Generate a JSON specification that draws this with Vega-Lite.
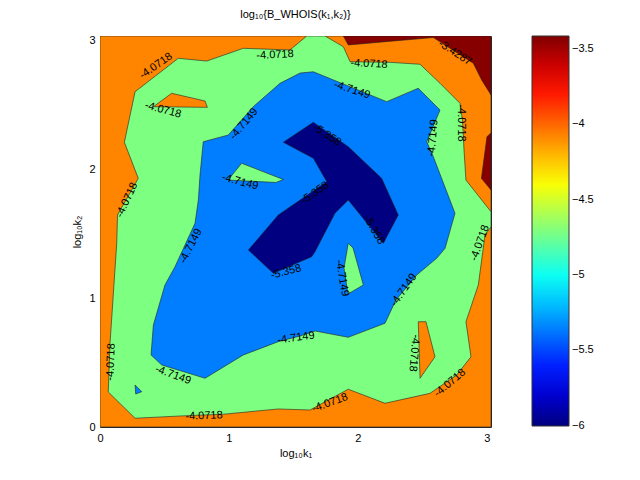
{
  "$schema": "https://vega.github.io/schema/vega-lite/v6.json",
  "width": 391,
  "height": 391,
  "autosize": {"type": "none"},
  "padding": {"left": 100, "top": 36, "right": 149, "bottom": 53},
  "config": {
    "font": "Liberation Sans, DejaVu Sans, sans-serif",
    "view": {"stroke": "#262626", "strokeWidth": 1}
  },
  "title": {"text": "log₁₀{B_WHOIS(k₁,k₂)}", "fontSize": 11, "fontWeight": "normal", "color": "#000", "offset": 14},
  "datasets": {
    "poly": [
      {"p": "bg", "s": 0, "z": -4.0718, "i": 0, "x": 0, "y": 0},
      {"p": "bg", "s": 0, "z": -4.0718, "i": 1, "x": 3.0334, "y": 0},
      {"p": "bg", "s": 0, "z": -4.0718, "i": 2, "x": 3.0334, "y": 3.0334},
      {"p": "bg", "s": 0, "z": -4.0718, "i": 3, "x": 0, "y": 3.0334},

      {"p": "g", "s": 1, "z": -4.7149, "i": 0, "x": 0.064, "y": 0.272},
      {"p": "g", "s": 1, "z": -4.7149, "i": 1, "x": 0.078, "y": 0.652},
      {"p": "g", "s": 1, "z": -4.7149, "i": 2, "x": 0.130, "y": 1.428},
      {"p": "g", "s": 1, "z": -4.7149, "i": 3, "x": 0.136, "y": 1.645},
      {"p": "g", "s": 1, "z": -4.7149, "i": 4, "x": 0.297, "y": 1.929},
      {"p": "g", "s": 1, "z": -4.7149, "i": 5, "x": 0.189, "y": 2.209},
      {"p": "g", "s": 1, "z": -4.7149, "i": 6, "x": 0.272, "y": 2.601},
      {"p": "g", "s": 1, "z": -4.7149, "i": 7, "x": 0.607, "y": 2.860},
      {"p": "g", "s": 1, "z": -4.7149, "i": 8, "x": 0.828, "y": 2.839},
      {"p": "g", "s": 1, "z": -4.7149, "i": 9, "x": 1.112, "y": 2.938},
      {"p": "g", "s": 1, "z": -4.7149, "i": 10, "x": 1.474, "y": 2.925},
      {"p": "g", "s": 1, "z": -4.7149, "i": 11, "x": 1.604, "y": 3.0334},
      {"p": "g", "s": 1, "z": -4.7149, "i": 12, "x": 1.746, "y": 3.0334},
      {"p": "g", "s": 1, "z": -4.7149, "i": 13, "x": 1.888, "y": 2.950},
      {"p": "g", "s": 1, "z": -4.7149, "i": 14, "x": 1.940, "y": 2.834},
      {"p": "g", "s": 1, "z": -4.7149, "i": 15, "x": 2.250, "y": 2.829},
      {"p": "g", "s": 1, "z": -4.7149, "i": 16, "x": 2.483, "y": 2.814},
      {"p": "g", "s": 1, "z": -4.7149, "i": 17, "x": 2.638, "y": 2.666},
      {"p": "g", "s": 1, "z": -4.7149, "i": 18, "x": 2.793, "y": 2.511},
      {"p": "g", "s": 1, "z": -4.7149, "i": 19, "x": 2.812, "y": 2.382},
      {"p": "g", "s": 1, "z": -4.7149, "i": 20, "x": 2.824, "y": 2.149},
      {"p": "g", "s": 1, "z": -4.7149, "i": 21, "x": 2.839, "y": 1.916},
      {"p": "g", "s": 1, "z": -4.7149, "i": 22, "x": 3.0334, "y": 1.670},
      {"p": "g", "s": 1, "z": -4.7149, "i": 23, "x": 3.0334, "y": 1.552},
      {"p": "g", "s": 1, "z": -4.7149, "i": 24, "x": 2.987, "y": 1.490},
      {"p": "g", "s": 1, "z": -4.7149, "i": 25, "x": 2.935, "y": 1.102},
      {"p": "g", "s": 1, "z": -4.7149, "i": 26, "x": 2.839, "y": 0.817},
      {"p": "g", "s": 1, "z": -4.7149, "i": 27, "x": 2.878, "y": 0.545},
      {"p": "g", "s": 1, "z": -4.7149, "i": 28, "x": 2.767, "y": 0.403},
      {"p": "g", "s": 1, "z": -4.7149, "i": 29, "x": 2.560, "y": 0.261},
      {"p": "g", "s": 1, "z": -4.7149, "i": 30, "x": 2.211, "y": 0.184},
      {"p": "g", "s": 1, "z": -4.7149, "i": 31, "x": 1.926, "y": 0.293},
      {"p": "g", "s": 1, "z": -4.7149, "i": 32, "x": 1.629, "y": 0.132},
      {"p": "g", "s": 1, "z": -4.7149, "i": 33, "x": 1.383, "y": 0.140},
      {"p": "g", "s": 1, "z": -4.7149, "i": 34, "x": 0.957, "y": 0.099},
      {"p": "g", "s": 1, "z": -4.7149, "i": 35, "x": 0.673, "y": 0.088},
      {"p": "g", "s": 1, "z": -4.7149, "i": 36, "x": 0.272, "y": 0.068},

      {"p": "b", "s": 2, "z": -5.358, "i": 0, "x": 0.801, "y": 2.213},
      {"p": "b", "s": 2, "z": -5.358, "i": 1, "x": 0.995, "y": 2.265},
      {"p": "b", "s": 2, "z": -5.358, "i": 2, "x": 1.189, "y": 2.485},
      {"p": "b", "s": 2, "z": -5.358, "i": 3, "x": 1.396, "y": 2.666},
      {"p": "b", "s": 2, "z": -5.358, "i": 4, "x": 1.552, "y": 2.746},
      {"p": "b", "s": 2, "z": -5.358, "i": 5, "x": 1.655, "y": 2.756},
      {"p": "b", "s": 2, "z": -5.358, "i": 6, "x": 2.224, "y": 2.524},
      {"p": "b", "s": 2, "z": -5.358, "i": 7, "x": 2.469, "y": 2.628},
      {"p": "b", "s": 2, "z": -5.358, "i": 8, "x": 2.638, "y": 2.459},
      {"p": "b", "s": 2, "z": -5.358, "i": 9, "x": 2.535, "y": 2.213},
      {"p": "b", "s": 2, "z": -5.358, "i": 10, "x": 2.586, "y": 2.097},
      {"p": "b", "s": 2, "z": -5.358, "i": 11, "x": 2.754, "y": 1.658},
      {"p": "b", "s": 2, "z": -5.358, "i": 12, "x": 2.677, "y": 1.386},
      {"p": "b", "s": 2, "z": -5.358, "i": 13, "x": 2.612, "y": 1.309},
      {"p": "b", "s": 2, "z": -5.358, "i": 14, "x": 2.457, "y": 1.179},
      {"p": "b", "s": 2, "z": -5.358, "i": 15, "x": 2.296, "y": 0.985},
      {"p": "b", "s": 2, "z": -5.358, "i": 16, "x": 2.211, "y": 0.805},
      {"p": "b", "s": 2, "z": -5.358, "i": 17, "x": 1.926, "y": 0.696},
      {"p": "b", "s": 2, "z": -5.358, "i": 18, "x": 1.668, "y": 0.745},
      {"p": "b", "s": 2, "z": -5.358, "i": 19, "x": 1.552, "y": 0.706},
      {"p": "b", "s": 2, "z": -5.358, "i": 20, "x": 1.383, "y": 0.662},
      {"p": "b", "s": 2, "z": -5.358, "i": 21, "x": 1.112, "y": 0.559},
      {"p": "b", "s": 2, "z": -5.358, "i": 22, "x": 0.815, "y": 0.378},
      {"p": "b", "s": 2, "z": -5.358, "i": 23, "x": 0.479, "y": 0.481},
      {"p": "b", "s": 2, "z": -5.358, "i": 24, "x": 0.396, "y": 0.559},
      {"p": "b", "s": 2, "z": -5.358, "i": 25, "x": 0.414, "y": 0.791},
      {"p": "b", "s": 2, "z": -5.358, "i": 26, "x": 0.504, "y": 1.102},
      {"p": "b", "s": 2, "z": -5.358, "i": 27, "x": 0.582, "y": 1.244},
      {"p": "b", "s": 2, "z": -5.358, "i": 28, "x": 0.737, "y": 1.580},
      {"p": "b", "s": 2, "z": -5.358, "i": 29, "x": 0.763, "y": 1.761},
      {"p": "b", "s": 2, "z": -5.358, "i": 30, "x": 0.776, "y": 1.955},

      {"p": "n", "s": 3, "z": -6.0, "i": 0, "x": 1.422, "y": 2.209},
      {"p": "n", "s": 3, "z": -6.0, "i": 1, "x": 1.655, "y": 2.364},
      {"p": "n", "s": 3, "z": -6.0, "i": 2, "x": 1.926, "y": 2.175},
      {"p": "n", "s": 3, "z": -6.0, "i": 3, "x": 2.185, "y": 1.929},
      {"p": "n", "s": 3, "z": -6.0, "i": 4, "x": 2.314, "y": 1.645},
      {"p": "n", "s": 3, "z": -6.0, "i": 5, "x": 2.198, "y": 1.425},
      {"p": "n", "s": 3, "z": -6.0, "i": 6, "x": 1.926, "y": 1.761},
      {"p": "n", "s": 3, "z": -6.0, "i": 7, "x": 1.823, "y": 1.658},
      {"p": "n", "s": 3, "z": -6.0, "i": 8, "x": 1.668, "y": 1.360},
      {"p": "n", "s": 3, "z": -6.0, "i": 9, "x": 1.642, "y": 1.321},
      {"p": "n", "s": 3, "z": -6.0, "i": 10, "x": 1.345, "y": 1.192},
      {"p": "n", "s": 3, "z": -6.0, "i": 11, "x": 1.151, "y": 1.373},
      {"p": "n", "s": 3, "z": -6.0, "i": 12, "x": 1.383, "y": 1.645},
      {"p": "n", "s": 3, "z": -6.0, "i": 13, "x": 1.759, "y": 1.903},
      {"p": "n", "s": 3, "z": -6.0, "i": 14, "x": 1.655, "y": 2.085},

      {"p": "o1", "s": 4, "z": -4.0718, "i": 0, "x": 0.556, "y": 2.589},
      {"p": "o1", "s": 4, "z": -4.0718, "i": 1, "x": 0.815, "y": 2.529},
      {"p": "o1", "s": 4, "z": -4.0718, "i": 2, "x": 0.833, "y": 2.480},
      {"p": "o1", "s": 4, "z": -4.0718, "i": 3, "x": 0.414, "y": 2.485},
      {"p": "o2", "s": 4, "z": -4.0718, "i": 0, "x": 2.469, "y": 0.817},
      {"p": "o2", "s": 4, "z": -4.0718, "i": 1, "x": 2.529, "y": 0.817},
      {"p": "o2", "s": 4, "z": -4.0718, "i": 2, "x": 2.599, "y": 0.545},
      {"p": "o2", "s": 4, "z": -4.0718, "i": 3, "x": 2.483, "y": 0.378},
      {"p": "gA", "s": 4, "z": -4.7149, "i": 0, "x": 1.099, "y": 2.046},
      {"p": "gA", "s": 4, "z": -4.7149, "i": 1, "x": 1.422, "y": 1.920},
      {"p": "gA", "s": 4, "z": -4.7149, "i": 2, "x": 1.365, "y": 1.897},
      {"p": "gA", "s": 4, "z": -4.7149, "i": 3, "x": 0.993, "y": 1.916},
      {"p": "gB", "s": 4, "z": -4.7149, "i": 0, "x": 1.926, "y": 1.425},
      {"p": "gB", "s": 4, "z": -4.7149, "i": 1, "x": 1.963, "y": 1.389},
      {"p": "gB", "s": 4, "z": -4.7149, "i": 2, "x": 2.043, "y": 1.102},
      {"p": "gB", "s": 4, "z": -4.7149, "i": 3, "x": 1.924, "y": 1.032},
      {"p": "gB", "s": 4, "z": -4.7149, "i": 4, "x": 1.893, "y": 1.234},
      {"p": "bt", "s": 4, "z": -5.358, "i": 0, "x": 0.272, "y": 0.326},
      {"p": "bt", "s": 4, "z": -5.358, "i": 1, "x": 0.324, "y": 0.274},
      {"p": "bt", "s": 4, "z": -5.358, "i": 2, "x": 0.277, "y": 0.256},
      {"p": "r1", "s": 4, "z": -3.4287, "i": 0, "x": 1.888, "y": 3.0334},
      {"p": "r1", "s": 4, "z": -3.4287, "i": 1, "x": 1.926, "y": 2.964},
      {"p": "r1", "s": 4, "z": -3.4287, "i": 2, "x": 2.586, "y": 3.022},
      {"p": "r1", "s": 4, "z": -3.4287, "i": 3, "x": 2.896, "y": 2.822},
      {"p": "r1", "s": 4, "z": -3.4287, "i": 4, "x": 2.961, "y": 2.692},
      {"p": "r1", "s": 4, "z": -3.4287, "i": 5, "x": 3.0334, "y": 2.576},
      {"p": "r1", "s": 4, "z": -3.4287, "i": 6, "x": 3.0334, "y": 3.0334},
      {"p": "r2", "s": 4, "z": -3.4287, "i": 0, "x": 3.0334, "y": 2.281},
      {"p": "r2", "s": 4, "z": -3.4287, "i": 1, "x": 3.002, "y": 2.252},
      {"p": "r2", "s": 4, "z": -3.4287, "i": 2, "x": 2.959, "y": 1.929},
      {"p": "r2", "s": 4, "z": -3.4287, "i": 3, "x": 3.0334, "y": 1.839}
    ],
    "labels": [
      {"t": "-4.0718", "x": 2.087, "y": 2.816, "a": 3},
      {"t": "-4.0718", "x": 1.358, "y": 2.886, "a": -3},
      {"t": "-4.0718", "x": 0.434, "y": 2.801, "a": -35},
      {"t": "-4.0718", "x": 0.489, "y": 2.459, "a": 15},
      {"t": "-4.7149", "x": 1.117, "y": 2.351, "a": -50},
      {"t": "-4.7149", "x": 1.086, "y": 1.901, "a": 15},
      {"t": "-4.0718", "x": 0.210, "y": 1.761, "a": -65},
      {"t": "-4.7149", "x": 1.955, "y": 2.614, "a": 18},
      {"t": "-3.4287", "x": 2.754, "y": 2.902, "a": 33},
      {"t": "-5.358", "x": 1.761, "y": 2.265, "a": 33},
      {"t": "-5.358", "x": 1.668, "y": 1.815, "a": -35},
      {"t": "-5.358", "x": 2.126, "y": 1.528, "a": 60},
      {"t": "-5.358", "x": 1.443, "y": 1.203, "a": -15},
      {"t": "-4.7149", "x": 1.877, "y": 1.156, "a": 80},
      {"t": "-4.7149", "x": 2.583, "y": 2.242, "a": -85},
      {"t": "-4.0718", "x": 2.801, "y": 2.358, "a": 90},
      {"t": "-4.0718", "x": 2.948, "y": 1.428, "a": -70},
      {"t": "-4.7149", "x": 2.358, "y": 1.063, "a": -55},
      {"t": "-4.0718", "x": 2.436, "y": 0.574, "a": 95},
      {"t": "-4.0718", "x": 2.715, "y": 0.341, "a": -40},
      {"t": "-4.0718", "x": 1.784, "y": 0.186, "a": -20},
      {"t": "-4.7149", "x": 1.521, "y": 0.691, "a": -8},
      {"t": "-4.7149", "x": 0.566, "y": 0.403, "a": 20},
      {"t": "-4.0718", "x": 0.807, "y": 0.085, "a": -2},
      {"t": "-4.0718", "x": 0.085, "y": 0.504, "a": -88},
      {"t": "-4.7149", "x": 0.706, "y": 1.404, "a": -63}
    ]
  },
  "encoding": {
    "x": {
      "field": "x", "type": "quantitative",
      "scale": {"domain": [0, 3.0334], "nice": false, "zero": false},
      "axis": {"title": "log₁₀k₁", "values": [0, 1, 2, 3], "format": "d", "ticks": false, "domain": false, "grid": false,
               "labelFlush": false, "labelFontSize": 11, "labelPadding": 5, "labelColor": "#000",
               "titleFontSize": 11, "titleFontWeight": "normal", "titleColor": "#000", "titlePadding": 4}
    },
    "y": {
      "field": "y", "type": "quantitative",
      "scale": {"domain": [0, 3.0334], "nice": false, "zero": false},
      "axis": {"title": "log₁₀k₂", "values": [0, 1, 2, 3], "format": "d", "ticks": false, "domain": false, "grid": false,
               "labelFlush": false, "labelFontSize": 11, "labelPadding": 5, "labelColor": "#000",
               "titleFontSize": 11, "titleFontWeight": "normal", "titleColor": "#000", "titlePadding": 6}
    }
  },
  "layer": [
    {
      "data": {"name": "poly"},
      "encoding": {
        "order": {"field": "i", "type": "quantitative"},
        "detail": {"field": "p", "type": "nominal"},
        "fill": {
          "field": "z", "type": "quantitative",
          "scale": {"domain": [-6.0011, -5.6777, -5.031, -4.3843, -3.7376, -3.414],
                    "range": ["#000080", "#0000ff", "#00ffff", "#ffff00", "#ff0000", "#800000"],
                    "interpolate": "rgb"},
          "legend": {"title": null, "values": [-6, -5.5, -5, -4.5, -4, -3.5], "format": "~g",
                     "direction": "vertical", "orient": "right", "offset": 41, "padding": 0,
                     "gradientLength": 390, "gradientThickness": 37,
                     "gradientStrokeColor": "#333", "gradientStrokeWidth": 1,
                     "labelOffset": 3, "labelFontSize": 11, "labelColor": "#000", "labelOverlap": false}
        }
      },
      "layer": [
        {"transform": [{"filter": "datum.s == 0"}], "mark": {"type": "line", "interpolate": "linear-closed", "stroke": "#222", "strokeWidth": 0.6, "clip": true}},
        {"transform": [{"filter": "datum.s == 1"}], "mark": {"type": "line", "interpolate": "linear-closed", "stroke": "#222", "strokeWidth": 0.6, "clip": true}},
        {"transform": [{"filter": "datum.s == 2"}], "mark": {"type": "line", "interpolate": "linear-closed", "stroke": "#222", "strokeWidth": 0.6, "clip": true}},
        {"transform": [{"filter": "datum.s == 3"}], "mark": {"type": "line", "interpolate": "linear-closed", "stroke": "#222", "strokeWidth": 0.6, "clip": true}},
        {"transform": [{"filter": "datum.s == 4"}], "mark": {"type": "line", "interpolate": "linear-closed", "stroke": "#222", "strokeWidth": 0.6, "clip": true}}
      ]
    },
    {
      "data": {"name": "labels"},
      "mark": {"type": "text", "fontSize": 11, "color": "#000", "align": "center", "baseline": "middle"},
      "encoding": {
        "text": {"field": "t", "type": "nominal"},
        "angle": {"field": "a", "type": "quantitative", "scale": null}
      }
    }
  ]
}
